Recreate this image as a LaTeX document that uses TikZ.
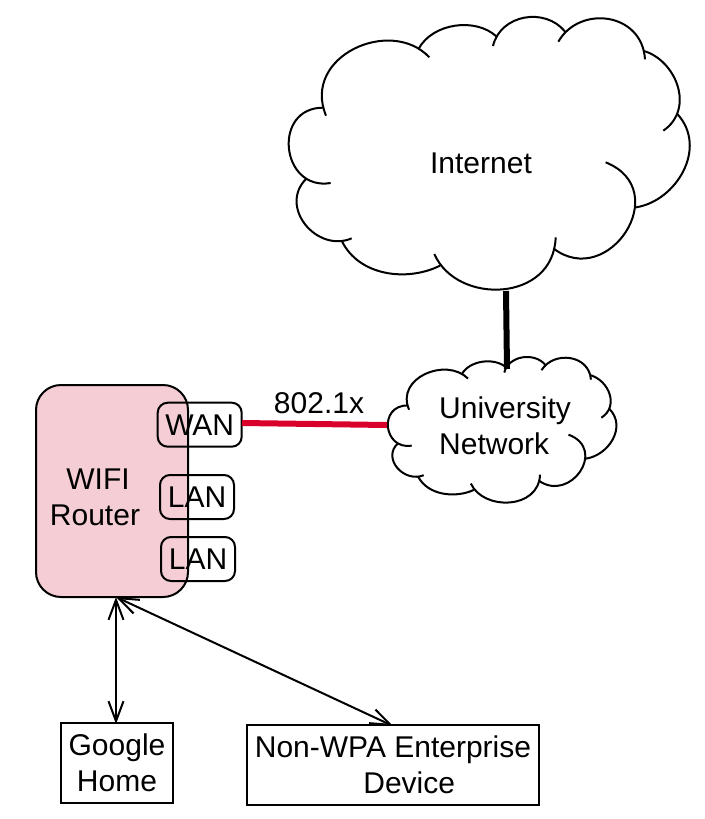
\documentclass[tikz,border=0pt]{standalone}
\usepackage{fontspec}
\setmainfont{Liberation Sans}
\usetikzlibrary{arrows.meta}
\definecolor{routerfill}{HTML}{F5CED5}
\definecolor{linkred}{HTML}{D9002B}
% one cubic through S, Q (t=1/3), R (t=2/3), E
\newcommand{\cloudarc}[8]{%
  \pgfmathsetmacro{\cax}{-0.83333*#1+3*#3-1.5*#5+0.33333*#7}%
  \pgfmathsetmacro{\cay}{-0.83333*#2+3*#4-1.5*#6+0.33333*#8}%
  \pgfmathsetmacro{\cbx}{0.33333*#1-1.5*#3+3*#5-0.83333*#7}%
  \pgfmathsetmacro{\cby}{0.33333*#2-1.5*#4+3*#6-0.83333*#8}%
  \draw[cloudline] (#1,#2) .. controls (\cax,\cay) and (\cbx,\cby) .. (#7,#8);%
}
\newcommand{\cloudoutline}{%
  \cloudarc{168}{347}{190}{195}{330}{123}{478}{172}
  \cloudarc{445}{148}{510}{90}{600}{76}{680}{110}
  \cloudarc{669}{138}{722}{68}{808}{52}{885}{95}
  \cloudarc{865}{125}{959}{58}{1068}{77}{1125}{178}
  \cloudarc{1122}{153}{1201}{213}{1229}{307}{1180}{392}
  \cloudarc{1222}{342}{1258}{456}{1204}{564}{1098}{622}
  \cloudarc{1007}{487}{1095}{619}{1010}{753}{850}{745}
  \cloudarc{857}{712}{775}{846}{616}{861}{493}{762}
  \cloudarc{510}{797}{402}{823}{293}{800}{215}{722}
  \cloudarc{245}{715}{144}{707}{83}{629}{110}{535}
  \cloudarc{182}{549}{75}{501}{64}{386}{162}{323}
}
\tikzset{
  cloudline/.style={draw=black,line width=2pt},
  label text/.style={font=\fontsize{30}{36}\selectfont,inner sep=0pt,text=black},
  port/.style={label text,draw=black,line width=2pt,rounded corners=10pt,minimum height=44pt},
  device/.style={label text,draw=black,line width=2pt,fill=white},
  router box/.style={draw=black,line width=2pt,fill=routerfill,rounded corners=25pt,minimum width=152pt,minimum height=212pt,inner sep=0pt},
  thick link/.style={line width=6pt},
  open both/.style={line width=2pt,{Straight Barb[length=20pt,width=15pt,line width=2pt]}-{Straight Barb[length=20pt,width=15pt,line width=2pt]}},
}
\begin{document}
\begin{tikzpicture}[x=1pt,y=-1pt]
\useasboundingbox (0,0) rectangle (704,819);
% clouds
\begin{scope}[shift={(270,0)},x=.33333pt,y=-.33333pt]
  \cloudoutline
\end{scope}
\begin{scope}[shift={(377.17,347.95)},x=.19pt,y=-.178pt]
  \cloudoutline
\end{scope}
\node[label text] (internet) at (481,163) {Internet};
\node[label text,align=left,anchor=west] (university) at (439,426) {University\\Network};
\coordinate (internetbottom) at (506,291);
\coordinate (universitytop) at (507,369);
\coordinate (universitywest) at (387,425);
% router
\node[router box] (router) at (112,491) {};
\node[label text,align=center] (routerlabel) at (95,497) {\hspace*{6pt}WIFI\\Router};
\node[port,minimum width=84pt] (wan) at (199.7,424.7) {WAN};
\node[port,minimum width=74pt] (lan1) at (197,497) {LAN};
\node[port,minimum width=74pt] (lan2) at (198,559) {LAN};
\coordinate (wanport) at (242,423);
% devices
\node[device,minimum width=112pt,minimum height=80pt,align=center] (google) at (117,763) {Google\\Home};
\node[device,minimum width=292pt,minimum height=80pt,align=left] (nonwpa) at (393,765) {Non-WPA Enterprise\\\hspace*{108.5pt}Device};
\coordinate (routerport) at (116,597);
\coordinate (googletop) at (116,724);
\coordinate (nonwpatop) at (393,726);
% links
\draw[thick link] (internetbottom) -- (universitytop);
\draw[thick link,linkred] (wanport) -- (universitywest);
\node[label text] (dot1x) at (319,403) {802.1x};
\draw[open both] (routerport) -- (googletop);
\draw[open both] (routerport) -- (nonwpatop);
\end{tikzpicture}
\end{document}
